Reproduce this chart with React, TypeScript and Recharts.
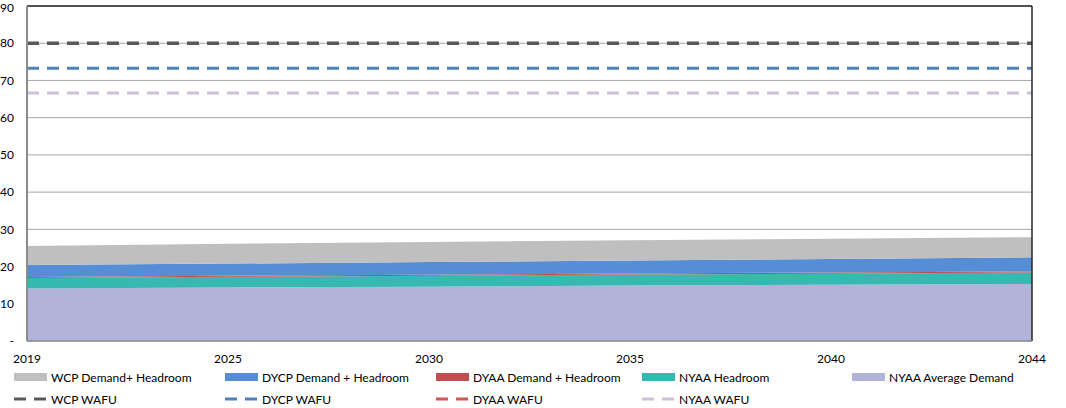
import React from 'react';
import { ComposedChart, Area, Line, XAxis, YAxis, CartesianGrid, ReferenceLine } from 'recharts';

const years = ['2019', '2025', '2030', '2035', '2040', '2044'];
const yTicks = [0, 10, 20, 30, 40, 50, 60, 70, 80, 90];

// stacked, bottom to top
const nyaaAverageDemand = [14.1, 14.4, 14.6, 14.9, 15.1, 15.3];
const nyaaHeadroom = [2.8, 2.85, 2.9, 2.95, 3.0, 3.1];
const dyaaDemand = [0.3, 0.3, 0.3, 0.3, 0.3, 0.3];
const dycpDemand = [3.2, 3.25, 3.4, 3.45, 3.6, 3.8];
const wcpDemand = [5.1, 5.3, 5.4, 5.5, 5.5, 5.4];

const wcpWafu = [80, 80, 80, 80, 80, 80];
const dycpWafu = [73.3, 73.3, 73.3, 73.3, 73.3, 73.3];
const dyaaWafu = [80, 80, 80, 80, 80, 80];
const nyaaWafu = [66.6, 66.6, 66.6, 66.6, 66.6, 66.6];

const data = years.map((year, i) => ({
  year,
  nyaaAvg: nyaaAverageDemand[i],
  nyaaHead: nyaaHeadroom[i],
  dyaa: dyaaDemand[i],
  dycp: dycpDemand[i],
  wcp: wcpDemand[i],
  wcpWafu: wcpWafu[i],
  dycpWafu: dycpWafu[i],
  dyaaWafu: dyaaWafu[i],
  nyaaWafu: nyaaWafu[i],
}));

const FONT = 'Lato, "Open Sans", sans-serif';

const areaItems = [
  { name: 'WCP Demand+ Headroom', color: '#bfbfbf' },
  { name: 'DYCP Demand + Headroom', color: '#558ed5' },
  { name: 'DYAA Demand + Headroom', color: '#c0504d' },
  { name: 'NYAA Headroom', color: '#37b9b2' },
  { name: 'NYAA Average Demand', color: '#b1b3da' },
];
const lineItems = [
  { name: 'WCP WAFU', color: '#595959' },
  { name: 'DYCP WAFU', color: '#4f81bd' },
  { name: 'DYAA WAFU', color: '#d9534f' },
  { name: 'NYAA WAFU', color: '#ccc0da' },
];
const legendCols = [14, 225, 436, 642, 852];

const LegendBlock = () => (
  <div style={{ position: 'absolute', left: 0, top: 0, fontFamily: FONT, fontSize: 12, color: '#000' }}>
    {areaItems.map((it, i) => (
      <div key={it.name} style={{ position: 'absolute', left: legendCols[i], top: 368, display: 'flex', alignItems: 'center', whiteSpace: 'nowrap', height: 18 }}>
        <span style={{ display: 'inline-block', width: 33, height: 8, background: it.color, marginRight: 4 }} />
        <span>{it.name}</span>
      </div>
    ))}
    {lineItems.map((it, i) => (
      <div key={it.name} style={{ position: 'absolute', left: legendCols[i], top: 390, display: 'flex', alignItems: 'center', whiteSpace: 'nowrap', height: 18 }}>
        <svg width={33} height={8} style={{ marginRight: 4 }}>
          <line x1={0} y1={4} x2={33} y2={4} stroke={it.color} strokeWidth={3} strokeDasharray="12 8" />
        </svg>
        <span>{it.name}</span>
      </div>
    ))}
  </div>
);

export default function App() {
  const tick = { fontFamily: FONT, fontSize: 12, fill: '#000' };
  return (
    <div style={{ position: 'absolute', left: 0, top: 0, width: 1066, height: 408, background: '#fff' }}>
      <ComposedChart width={1066} height={408} data={data} margin={{ top: 6, right: 34, left: 0, bottom: 37 }}>
        <CartesianGrid vertical={false} stroke="#a6a6a6" strokeWidth={1} />
        <XAxis
          dataKey="year"
          scale="point"
          padding={{ left: 0, right: 0 }}
          tick={tick}
          tickLine={false}
          tickMargin={7}
          axisLine={{ stroke: '#8c8c8c', strokeWidth: 1.5 }}
          interval={0}
        />
        <YAxis
          width={27}
          domain={[0, 90]}
          ticks={yTicks}
          tickFormatter={(v: number) => (v === 0 ? '-' : String(v))}
          tick={tick}
          tickLine={false}
          tickMargin={7}
          axisLine={{ stroke: '#8c8c8c', strokeWidth: 2 }}
        />
        <Area dataKey="nyaaAvg" stackId="s" stroke="none" fill="#b1b3da" fillOpacity={1} isAnimationActive={false} />
        <Area dataKey="nyaaHead" stackId="s" stroke="none" fill="#37b9b2" fillOpacity={1} isAnimationActive={false} />
        <Area dataKey="dyaa" stackId="s" stroke="none" fill="#c0504d" fillOpacity={1} isAnimationActive={false} />
        <Area dataKey="dycp" stackId="s" stroke="none" fill="#558ed5" fillOpacity={1} isAnimationActive={false} />
        <Area dataKey="wcp" stackId="s" stroke="none" fill="#bfbfbf" fillOpacity={1} isAnimationActive={false} />
        <Line dataKey="nyaaWafu" stroke="#ccc0da" strokeWidth={3} strokeDasharray="12 8" dot={false} isAnimationActive={false} />
        <Line dataKey="dyaaWafu" stroke="#d9534f" strokeWidth={2.5} strokeDasharray="12 8" dot={false} isAnimationActive={false} />
        <Line dataKey="dycpWafu" stroke="#4f81bd" strokeWidth={3} strokeDasharray="12 8" dot={false} isAnimationActive={false} />
        <Line dataKey="wcpWafu" stroke="#595959" strokeWidth={3.5} strokeDasharray="12 8" dot={false} isAnimationActive={false} />
        <ReferenceLine y={90} stroke="#262626" strokeWidth={1.5} />
        <ReferenceLine x="2044" stroke="#262626" strokeWidth={1.5} />
      </ComposedChart>
      <LegendBlock />
    </div>
  );
}
